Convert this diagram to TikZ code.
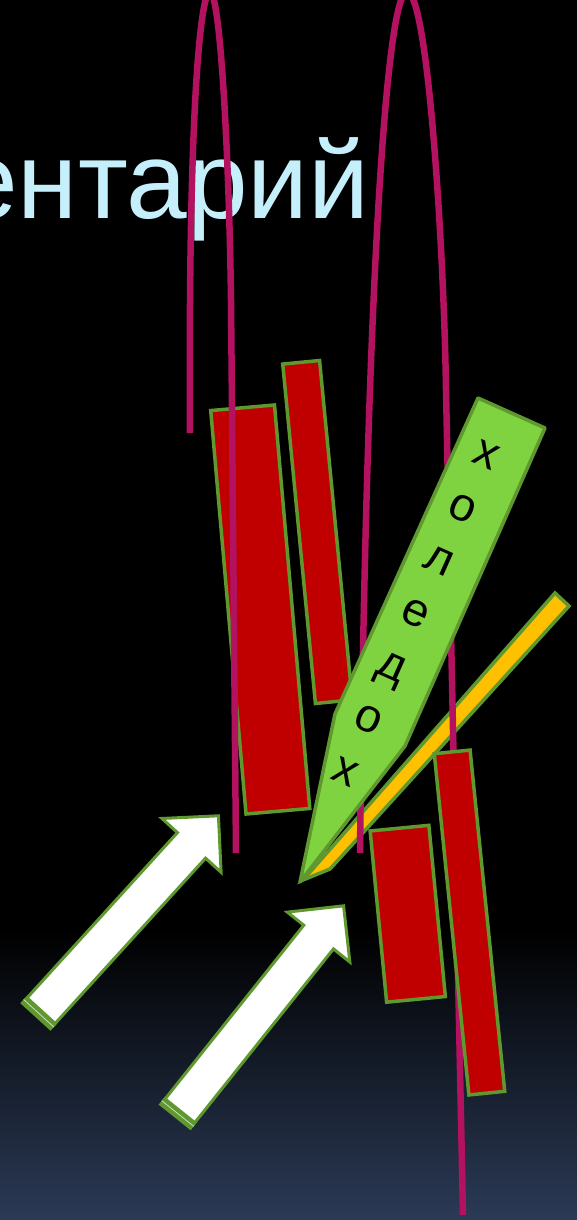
\documentclass[tikz,border=0pt]{standalone}
\usepackage{fontspec}
\setmainfont{Liberation Sans}
\usetikzlibrary{shapes.arrows}
\definecolor{TitleCyan}{RGB}{198,239,252}
\definecolor{VesselRed}{RGB}{178,18,96}
\definecolor{TissueRed}{RGB}{192,0,0}
\definecolor{EdgeGreen}{RGB}{95,152,46}
\definecolor{DuctGreen}{RGB}{128,211,64}
\definecolor{StripYellow}{RGB}{255,192,0}
\definecolor{SlideNavy}{RGB}{43,58,86}
\definecolor{BandLight}{RGB}{205,222,190}
\tikzset{
  tissue/.style={draw=EdgeGreen,fill=TissueRed,line width=3.5pt,inner sep=0pt},
  vessel/.style={draw=VesselRed,line width=6.5pt},
  duct/.style={draw=EdgeGreen,fill=DuctGreen,line width=3.5pt,line join=round},
  strip/.style={draw=EdgeGreen,fill=StripYellow,line width=3.5pt},
  push/.style={single arrow,draw=EdgeGreen,fill=white,line width=3pt,inner sep=17.5pt,single arrow head extend=21pt,single arrow tip angle=90},
  tailband/.style={draw=EdgeGreen,line width=4.6pt,double=BandLight,double distance=0.8pt}
}

\begin{document}
\begin{tikzpicture}[x=1pt,y=-1pt]
\useasboundingbox (0,0) rectangle (577,1220);
\clip (0,0) rectangle (577,1220);
\fill[black] (0,0) rectangle (577,931);
\shade[top color=black,bottom color=SlideNavy] (0,930) rectangle (577,1220);

\node[anchor=base east,inner sep=0pt,text=TitleCyan,font=\fontsize{109}{120}\selectfont] (title) at (370,218) {ентарий};

\node[tissue,minimum width=64pt,minimum height=405pt,rotate=5] (ra) at (260.25,609.5) {};
\node[tissue,minimum width=37pt,minimum height=341pt,rotate=5.5] (rb) at (317.5,532) {};

\draw[strip] (555,593) -- (569,606) -- (330,869) -- (303,880) -- cycle;

\draw[vessel] (190,433) .. controls (188,120) and (200,-8) .. (210,-8) .. controls (220,-8) and (229,150) .. (231,300) -- (236,853);
\draw[vessel] (360,853) .. controls (366,300) and (386,-8) .. (407,-8) .. controls (428,-8) and (444,250) .. (446,390) -- (463,1215);

\draw[duct] (478,398) -- (545,428) -- (405,746) -- (300,882) -- (335,714) -- cycle;
\node[rotate=-24,align=center,inner sep=0pt,font=\fontsize{47}{57.8}\selectfont] (duct) at (415.4,613.6) {х\\о\\л\\е\\д\\о\\х};

\node[tissue,minimum width=59pt,minimum height=172pt,rotate=5.5] (rc) at (407.75,913.75) {};
\node[tissue,minimum width=36pt,minimum height=343pt,rotate=5.8] (rd) at (469.5,922.5) {};

\node[push,minimum height=265.5pt,rotate=47.7] (a1) at (122.7,921) {};
\node[push,minimum height=264.3pt,rotate=51.4] (a2) at (255.2,1016.5) {};
\draw[tailband] (a1.before tail) -- (a1.after tail);
\draw[tailband] (a2.before tail) -- (a2.after tail);
\end{tikzpicture}
\end{document}
